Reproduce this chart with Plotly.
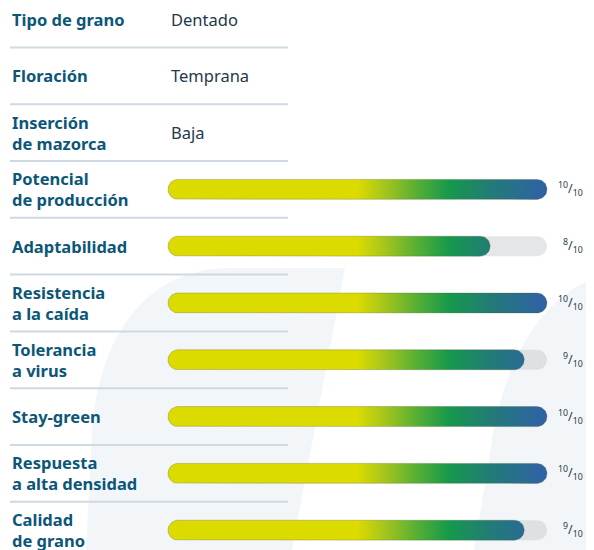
import math
import plotly.graph_objects as go

# ---- data ----
info_labels = ["Tipo de grano", "Floración", "Inserción<br>de mazorca"]
info_values = ["Dentado", "Temprana", "Baja"]

score_labels = ["Potencial<br>de producción", "Adaptabilidad", "Resistencia<br>a la caída",
                "Tolerancia<br>a virus", "Stay-green", "Respuesta<br>a alta densidad",
                "Calidad<br>de grano"]
scores = [10, 8, 10, 9, 10, 10, 9]            # printed scores
bar_levels = [10, 8.5, 10, 9.4, 10, 10, 9.4]  # bar lengths as drawn in the picture
score_max = 10

# ---- geometry (pixels of the 594x550 window; page body has an 8px margin) ----
OFF = 8
W, H = 594 - OFF, 550 - OFF
track_x0, track_x1 = 168 - OFF, 547 - OFF
row0, row_step = 19 - OFF, 56.8
bar_r = 10

px_per_unit = (track_x1 - track_x0) / score_max
x_range = [-track_x0 / px_per_unit, (W - track_x0) / px_per_unit]
y_range = [(H - row0) / row_step, -row0 / row_step]

rx = bar_r / px_per_unit
ry = bar_r / row_step


def pill(x0, x1, yc, n=24):
    xs, ys = [], []
    for k in range(n + 1):
        a = -math.pi / 2 + math.pi * k / n
        xs.append(x1 - rx + rx * math.cos(a))
        ys.append(yc + ry * math.sin(a))
    for k in range(n + 1):
        a = math.pi / 2 + math.pi * k / n
        xs.append(x0 + rx + rx * math.cos(a))
        ys.append(yc + ry * math.sin(a))
    xs.append(xs[0]); ys.append(ys[0])
    return xs, ys


def px(x):
    return (x - OFF) / W


def py(y):
    return 1 - (y - OFF) / H


grad = [[0.0, "#dcdb00"], [0.5, "#dcdb00"], [0.57, "#a6c61b"], [0.65, "#5cb132"],
        [0.74, "#16994b"], [0.86, "#23797a"], [1.0, "#3060a8"]]

fig = go.Figure()

label_color = "#0c5678"
value_color = "#23384a"
all_labels = info_labels + score_labels
n_rows = len(all_labels)

for i, lab in enumerate(all_labels):
    fig.add_annotation(x=px(10), xref="paper", y=i, yref="y", text=lab, showarrow=False,
                       xanchor="left", yanchor="middle", align="left",
                       font=dict(family="Noto Sans", size=16.5, color=label_color, weight="bold"))

for i, v in enumerate(info_values):
    fig.add_annotation(x=px(169), xref="paper", y=i, yref="y", text=v, showarrow=False,
                       xanchor="left", yanchor="middle",
                       font=dict(family="Noto Sans", size=16.5, color=value_color))

for j, (s, lv) in enumerate(zip(scores, bar_levels)):
    i = j + len(info_labels)
    tx, ty = pill(0, score_max, i)
    fig.add_trace(go.Scatter(x=tx, y=ty, mode="lines", fill="toself",
                             fillcolor="rgba(190,195,200,0.42)", line=dict(width=0),
                             hoverinfo="skip", showlegend=False))
    bx, by = pill(0, lv, i)
    fig.add_trace(go.Scatter(x=bx, y=by, mode="lines", fill="toself",
                             fillgradient=dict(type="horizontal", colorscale=grad, start=0, stop=score_max),
                             line=dict(width=0.8, color="rgba(90,90,40,0.35)"),
                             hoverinfo="skip", showlegend=False))
    fig.add_annotation(x=px(585), xref="paper", y=i, yref="y",
                       text=f"<sup>{s}</sup>/<sub>{score_max}</sub>", showarrow=False,
                       xanchor="right", yanchor="middle",
                       font=dict(family="Noto Sans", size=12.5, color="#2a3b4a"))

shapes = []
left_shape = (f"M {px(345)} {py(268)} L {px(230)} {py(268)} "
              f"C {px(150)} {py(268)}, {px(100)} {py(330)}, {px(92)} {py(430)} "
              f"L {px(86)} {py(550)} L {px(292)} {py(550)} Z")
right_shape = (f"M {px(594)} {py(278)} C {px(540)} {py(300)}, {px(505)} {py(360)}, {px(492)} {py(440)} "
               f"L {px(474)} {py(550)} L {px(594)} {py(550)} Z")
for p in (left_shape, right_shape):
    shapes.append(dict(type="path", path=p, xref="paper", yref="paper",
                       fillcolor="#f3f6f9", line=dict(width=0), layer="below"))

for i in range(n_rows - 1):
    shapes.append(dict(type="line", xref="paper", yref="y", x0=px(10), x1=px(288),
                       y0=i + 0.5, y1=i + 0.5, line=dict(color="#cfd9e2", width=2), layer="below"))

fig.update_layout(
    width=W, height=H, margin=dict(l=0, r=0, t=0, b=0),
    paper_bgcolor="white", plot_bgcolor="rgba(0,0,0,0)",
    xaxis=dict(range=x_range, visible=False, fixedrange=True),
    yaxis=dict(range=y_range, visible=False, fixedrange=True),
    shapes=shapes,
)

fig.write_html("out.html")
